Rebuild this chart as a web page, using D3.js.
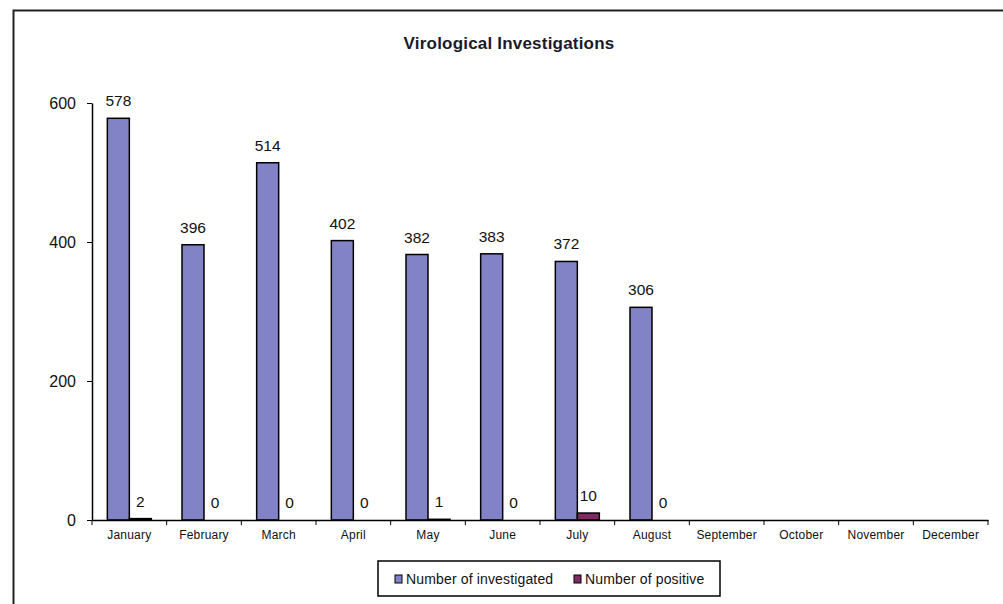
<!DOCTYPE html>
<html>
<head>
<meta charset="utf-8">
<script src="https://cdn.jsdelivr.net/npm/d3@7"></script>
<style>
  body { margin: 0; background: #fff; }
  text { font-family: Arial, "Liberation Sans", sans-serif; }
</style>
</head>
<body>
<svg id="chart" width="1003" height="604"></svg>
<script>
// data
var months = ["January", "February", "March", "April", "May", "June", "July",
    "August", "September", "October", "November", "December"];
var investigated = [578, 396, 514, 402, 382, 383, 372, 306, null, null, null, null];
var positive = [2, 0, 0, 0, 1, 0, 10, 0, null, null, null, null];
var yTicks = [0, 200, 400, 600];
var seriesNames = ["Number of investigated", "Number of positive"];

var colours = ["#8282c6", "#7f2a63"];

var svg = d3.select("#chart");

// outer frame
svg.append("rect")
    .attr("x", 13.5).attr("y", 10.5)
    .attr("width", 1000).attr("height", 600)
    .attr("fill", "none")
    .attr("stroke", "#222")
    .attr("stroke-width", 2);

svg.append("text")
    .attr("x", 509).attr("y", 49)
    .attr("text-anchor", "middle")
    .style("font-size", "17px")
    .style("font-weight", "bold")
    .style("letter-spacing", "0.2px")
    .style("fill", "#1a1a2a")
    .text("Virological Investigations");

var plotLeft = 92, plotRight = 988, plotTop = 103, plotBottom = 520;

var x = d3.scaleBand()
    .domain(months)
    .range([plotLeft, plotRight]);

var inner = d3.scaleBand()
    .domain([0, 1])
    .range([0, 44]);

var y = d3.scaleLinear()
    .domain([0, 600])
    .range([plotBottom, plotTop]);

var rows = months.map(function (m, i) {
    return {month: m, values: [investigated[i], positive[i]]};
});

var groups = svg.selectAll(".grp")
    .data(rows)
    .enter().append("g")
    .attr("class", "grp")
    .attr("transform", function (d) {
        return "translate(" + (x(d.month) + x.bandwidth() / 2 - 22) + ",0)";
    });

var cells = groups.selectAll("g")
    .data(function (d) {
        return d.values.map(function (v, k) { return {k: k, v: v}; })
            .filter(function (e) { return e.v !== null; });
    })
    .enter().append("g");

cells.append("rect")
    .attr("x", function (d) { return inner(d.k); })
    .attr("width", inner.bandwidth())
    .attr("y", function (d) { return y(d.v); })
    .attr("height", function (d) { return plotBottom - y(d.v); })
    .attr("fill", function (d) { return colours[d.k]; })
    .attr("stroke", function (d) { return d.v > 0 ? "#000" : "none"; })
    .attr("stroke-width", 1.5);

cells.append("text")
    .attr("x", function (d) { return inner(d.k) + inner.bandwidth() / 2; })
    .attr("y", function (d) { return y(d.v) - 12; })
    .attr("text-anchor", "middle")
    .style("font-size", "15.5px")
    .style("fill", "#111")
    .text(function (d) { return d.v; });

// axes
var xAxis = svg.append("g")
    .attr("transform", "translate(0," + plotBottom + ")")
    .call(d3.axisBottom(x).tickSize(0).tickPadding(10));
xAxis.select(".domain").attr("stroke", "#000").attr("stroke-width", 1.5);
xAxis.selectAll("text")
    .style("font-size", "12px")
    .style("letter-spacing", "0.2px")
    .style("font-family", "Arial, sans-serif")
    .attr("fill", "#111");
// ticks between categories
xAxis.selectAll(".sep")
    .data(months.concat(["end"]))
    .enter().append("line")
    .attr("x1", function (d, i) { return i < months.length ? x(d) : plotRight; })
    .attr("x2", function (d, i) { return i < months.length ? x(d) : plotRight; })
    .attr("y1", 0).attr("y2", 5)
    .attr("stroke", "#000");

var yAxis = svg.append("g")
    .attr("transform", "translate(" + plotLeft + ",0)")
    .call(d3.axisLeft(y).tickValues(yTicks).tickSize(5).tickPadding(11).tickSizeOuter(0));
yAxis.select(".domain").attr("stroke", "#000").attr("stroke-width", 1.5);
yAxis.selectAll("text")
    .style("font-size", "16px")
    .style("font-family", "Arial, sans-serif")
    .attr("fill", "#111");

// legend
var legend = svg.append("g").attr("transform", "translate(378,561)");
legend.append("rect")
    .attr("width", 342).attr("height", 35)
    .attr("fill", "#fff")
    .attr("stroke", "#000")
    .attr("stroke-width", 1.5);

var items = legend.selectAll(".item")
    .data(seriesNames)
    .enter().append("g")
    .attr("class", "item")
    .attr("transform", function (d, i) { return "translate(" + (17 + i * 179) + ",18)"; });
items.append("rect")
    .attr("x", 0).attr("y", -4)
    .attr("width", 7).attr("height", 8)
    .attr("fill", function (d, i) { return colours[i]; })
    .attr("stroke", "#000");
items.append("text")
    .attr("x", 11).attr("dy", "0.35em")
    .style("font-size", "14px")
    .style("letter-spacing", "0.15px")
    .style("fill", "#111")
    .text(function (d) { return d; });
</script>
</body>
</html>
